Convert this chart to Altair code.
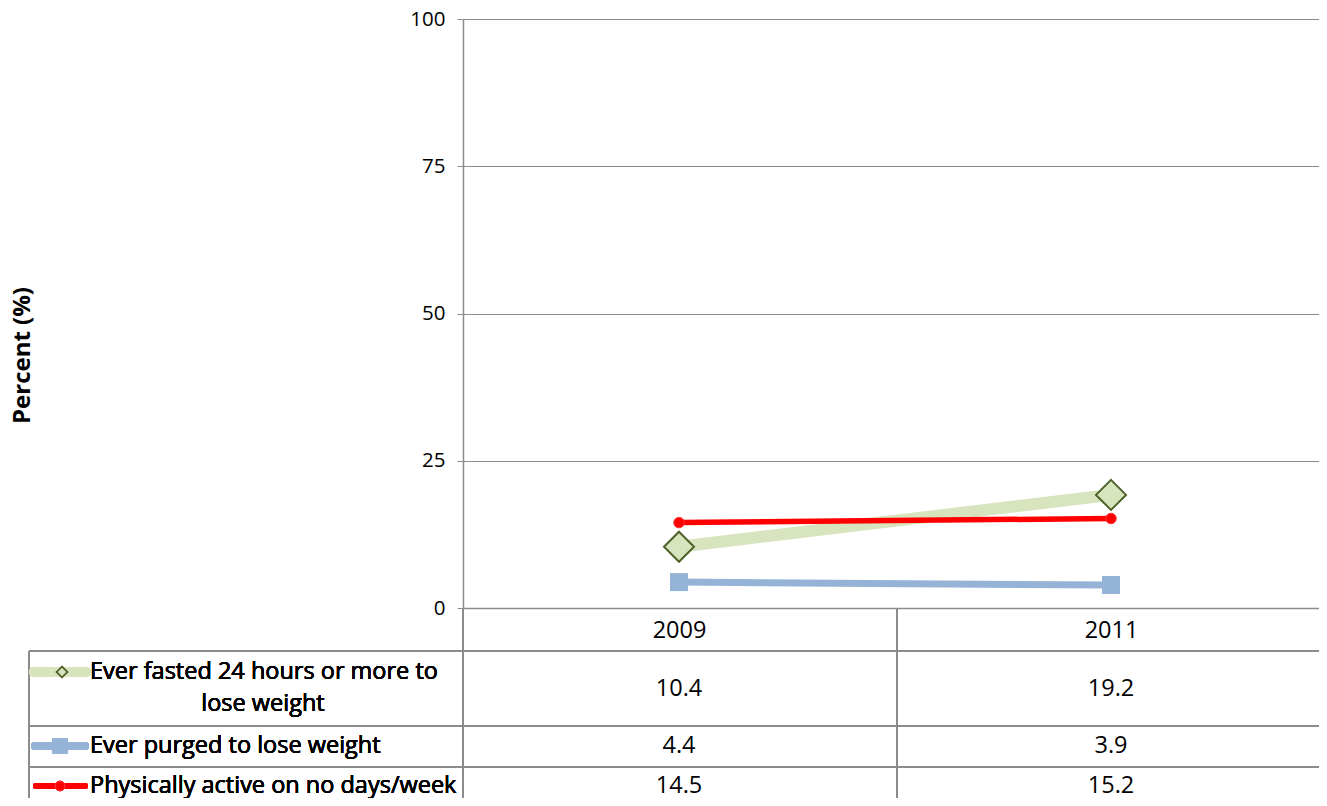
import altair as alt
import pandas as pd

years = ["2009", "2011"]
series = [
    "Ever fasted 24 hours or more to lose weight",
    "Ever purged to lose weight",
    "Physically active on no days/week",
]
fasted = [10.4, 19.2]
purged = [4.4, 3.9]
active = [14.5, 15.2]

values = [fasted, purged, active]
rows = []
for s, vals in zip(series, values):
    for y, v in zip(years, vals):
        rows.append({"year": y, "series": s, "value": v})
df = pd.DataFrame(rows)

FONT = "Open Sans"
FS = 23.5      # data table text
AXFS = 20.5    # y-axis tick labels
GRID = "#8c8c8c"
W, H = 856, 589
XR = 864  # band range (extends slightly past the page edge, like the reference)

styles = {
    series[0]: dict(color="#D7E4BD", width=12, shape="diamond", size=900, fill="#D7E4BD",
                    stroke="#4F6228", sw=2, lw=10, lsz=110),
    series[1]: dict(color="#95B3D7", width=7, shape="square", size=324, fill="#95B3D7",
                    stroke="#95B3D7", sw=0, lw=8, lsz=225),
    series[2]: dict(color="#FF0000", width=5.5, shape="circle", size=110, fill="#FF0000",
                    stroke="#FF3333", sw=1, lw=6, lsz=90),
}

x_scale = alt.Scale(domain=years, range=[0, XR], paddingInner=0, paddingOuter=0)
x_enc = alt.X("year:N", sort=years, scale=x_scale,
              axis=alt.Axis(title=None, labelFontSize=FS, labelFont=FONT, labelColor="#000",
                            labelPadding=10, ticks=False, domain=True, domainColor=GRID,
                            domainWidth=1.5, labelAngle=0, grid=False))
y_enc = alt.Y("value:Q", scale=alt.Scale(domain=[0, 100]),
              axis=alt.Axis(values=[0, 25, 50, 75, 100], title="Percent (%)",
                            titleFont=FONT, titleFontSize=24, titleFontWeight="bold",
                            titleColor="#000", titleAngle=270, titleX=-429, titleY=336,
                            labelFont=FONT, labelFontSize=AXFS, labelColor="#000",
                            labelPadding=12, tickSize=6, tickColor=GRID, domainColor=GRID,
                            domainWidth=1.5, grid=True, gridColor=GRID, gridWidth=1))

base = alt.Chart(df).encode(x=x_enc, y=y_enc)

layers = []
for s in series:
    st = styles[s]
    sub = base.transform_filter(alt.datum.series == s)
    layers.append(sub.mark_line(color=st["color"], strokeWidth=st["width"]))
for s in series:
    st = styles[s]
    sub = base.transform_filter(alt.datum.series == s)
    layers.append(sub.mark_point(shape=st["shape"], size=st["size"], filled=True,
                                 fill=st["fill"], stroke=st["stroke"],
                                 strokeWidth=st["sw"], opacity=1))

# ---- data table below the plot ----
line_color = GRID
BOTTOM = 779


def hrule(y, x1, x2):
    return alt.Chart(df).mark_rule(color=line_color, strokeWidth=1.5).encode(
        x=alt.value(x1), x2=alt.value(x2), y=alt.value(y))


def vrule(x, y1, y2):
    return alt.Chart(df).mark_rule(color=line_color, strokeWidth=1.5).encode(
        x=alt.value(x), y=alt.value(y1), y2=alt.value(y2))


table = [
    hrule(632, -434, XR), hrule(707, -434, XR), hrule(748, -434, XR),
    vrule(-434, 632, BOTTOM), vrule(0, 589, BOTTOM), vrule(434, 589, BOTTOM),
]

row_y = [670, 727, 767]
for s, ry in zip(series, row_y):
    table.append(
        alt.Chart(df).transform_filter(alt.datum.series == s)
        .mark_text(font=FONT, fontSize=FS, color="#000", baseline="middle", align="center")
        .encode(x=alt.X("year:N", sort=years, scale=x_scale), y=alt.value(ry),
                text=alt.Text("value:Q", format=".1f"))
    )

# legend labels in the table's first column
first_line, second_line = series[0].rsplit(" lose weight", 1)[0], "lose weight"
label_lines = [
    (first_line, -373, 653, "left"),
    (second_line, -200, 685, "center"),
    (series[1], -373, 727, "left"),
    (series[2], -373, 767, "left"),
]
for txt, lx, ly, al in label_lines:
    table.append(
        alt.Chart(df).mark_text(font=FONT, fontSize=FS, color="#000", baseline="middle",
                                align=al, text=txt)
        .encode(x=alt.value(lx), y=alt.value(ly))
    )

# legend symbols
sym_pos = [(-429, -377, -401, 653), (-428, -378, -403, 727), (-427, -378, -403, 767)]
for s, (a, b, cx, cy) in zip(series, sym_pos):
    st = styles[s]
    table.append(
        alt.Chart(df).mark_rule(color=st["color"], strokeWidth=st["lw"], strokeCap="round")
        .encode(x=alt.value(a), x2=alt.value(b), y=alt.value(cy))
    )
    table.append(
        alt.Chart(df).mark_point(shape=st["shape"], size=st["lsz"], filled=True, fill=st["fill"],
                                 stroke=st["stroke"], strokeWidth=min(st["sw"], 1.5), opacity=1)
        .encode(x=alt.value(cx), y=alt.value(cy))
    )

chart = alt.layer(*layers, *table).properties(
    width=W, height=H,
    autosize=alt.AutoSizeParams(type="none"),
    padding={"left": 455, "top": 11, "right": 0, "bottom": 190},
).configure_view(stroke=None).configure(background="white")

chart.save("out.html", embed_options={"renderer": "svg", "actions": False})
